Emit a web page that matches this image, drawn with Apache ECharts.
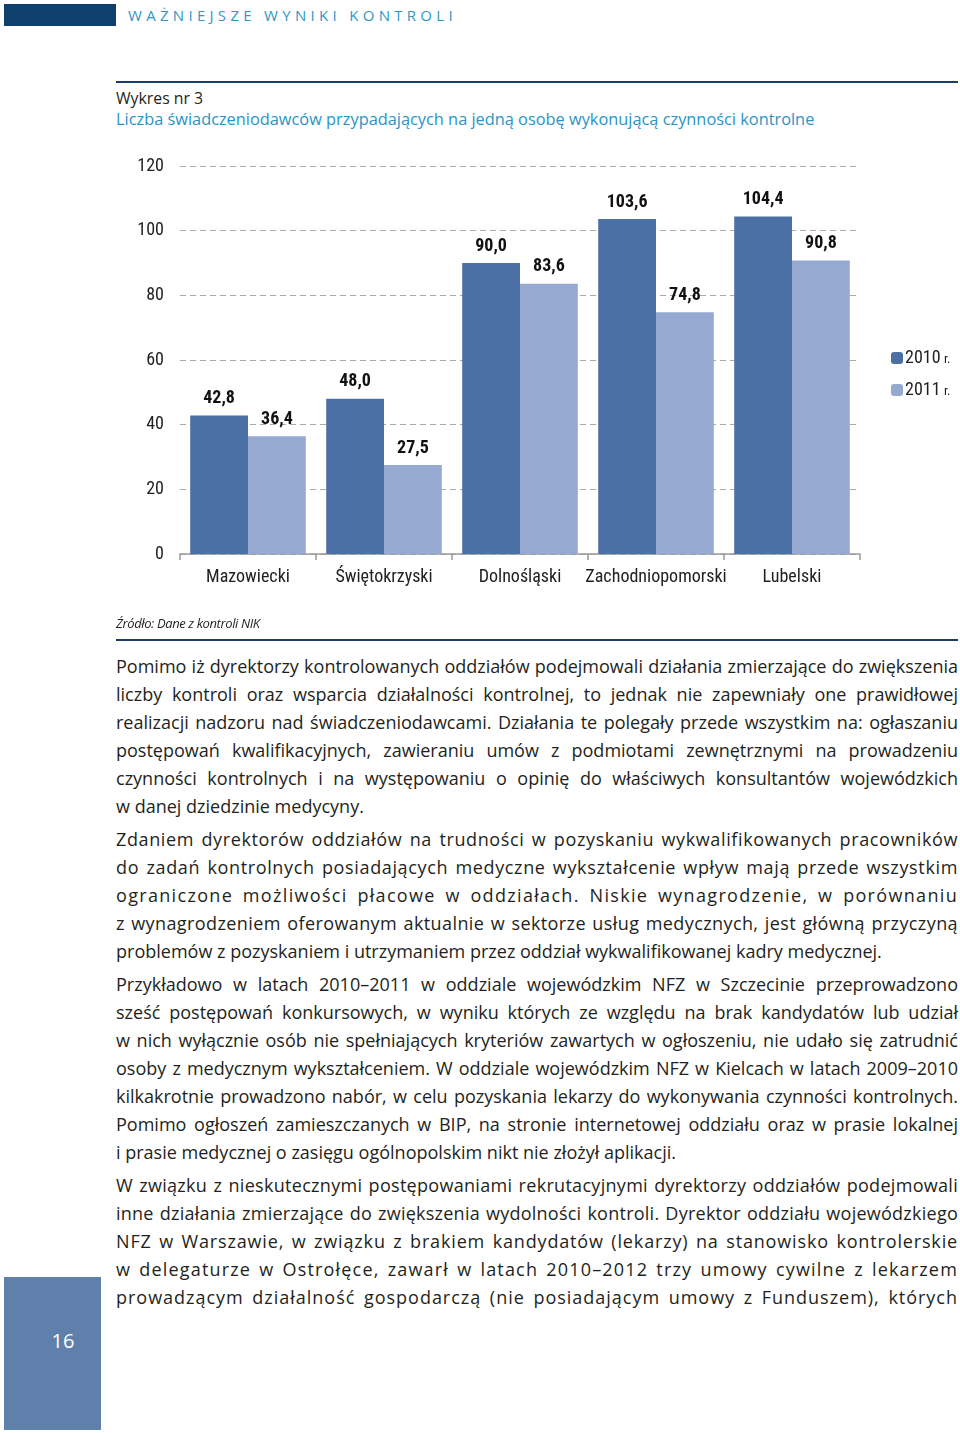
<!DOCTYPE html>
<html><head><meta charset="utf-8">
<script src="https://cdn.jsdelivr.net/npm/echarts@6/dist/echarts.min.js"></script>
<style>
html,body{margin:0;padding:0;background:#fff;}
#page{position:relative;width:960px;height:1433px;overflow:hidden;font-family:'Open Sans',sans-serif;color:#231f20;}
.hdrbox{position:absolute;left:4px;top:4px;width:112px;height:22px;background:#0f3f6c;}
.hdr{position:absolute;left:128px;top:5px;font-family:'Open Sans',sans-serif;font-size:15px;letter-spacing:4.3px;color:#2f97c4;}
.rule{position:absolute;left:116px;width:842px;height:2px;background:#1d3d64;}
.wyk{position:absolute;left:116px;top:87px;font-family:'Open Sans',sans-serif;font-size:15.8px;}
.ttl{position:absolute;left:116px;top:108px;font-family:'Open Sans',sans-serif;font-size:16.35px;color:#2a94c6;white-space:nowrap;}
.src{position:absolute;left:116px;top:614px;font-family:'Open Sans',sans-serif;font-style:italic;font-size:13px;letter-spacing:-0.4px;}
#chart{position:absolute;left:0;top:140px;width:960px;height:480px;}
.body{position:absolute;left:116px;top:652px;width:842px;font-size:18px;}
.ln{height:28px;line-height:28px;white-space:nowrap;text-align:justify;text-align-last:justify;}
.ln.last{text-align-last:left;}
.pg{height:5px;}
.pbox{position:absolute;left:4px;top:1277px;width:97px;height:153px;background:#5f80ab;}
.pnum{position:absolute;left:0;top:50px;width:118px;text-align:center;color:#fff;font-family:'Open Sans',sans-serif;font-size:20px;}
</style></head>
<body><div id="page">
<div class="hdrbox"></div>
<div class="hdr">WAŻNIEJSZE WYNIKI KONTROLI</div>
<div class="rule" style="top:81px"></div>
<div class="wyk">Wykres nr 3</div>
<div class="ttl">Liczba świadczeniodawców przypadających na jedną osobę wykonującą czynności kontrolne</div>
<div id="chart"></div>
<div class="src">Źródło: Dane z kontroli NIK</div>
<div class="rule" style="top:639px"></div>
<div class="body" id="body"></div>
<div class="pbox"><div class="pnum">16</div></div>
</div>
<script>
const categories = ['Mazowiecki','Świętokrzyski','Dolnośląski','Zachodniopomorski','Lubelski'];
const seriesNames = ['2010 r.','2011 r.'];
const values2010 = [42.8, 48.0, 90.0, 103.6, 104.4];
const values2011 = [36.4, 27.5, 83.6, 74.8, 90.8];
const yTicks = [0, 20, 40, 60, 80, 100, 120];

const paragraphs = [
 ['Pomimo iż dyrektorzy kontrolowanych oddziałów podejmowali działania zmierzające do zwiększenia',
  'liczby kontroli oraz wsparcia działalności kontrolnej, to jednak nie zapewniały one prawidłowej',
  'realizacji nadzoru nad świadczeniodawcami. Działania te polegały przede wszystkim na: ogłaszaniu',
  'postępowań kwalifikacyjnych, zawieraniu umów z podmiotami zewnętrznymi na prowadzeniu',
  'czynności kontrolnych i na występowaniu o opinię do właściwych konsultantów wojewódzkich',
  'w danej dziedzinie medycyny.'],
 ['Zdaniem dyrektorów oddziałów na trudności w pozyskaniu wykwalifikowanych pracowników',
  'do zadań kontrolnych posiadających medyczne wykształcenie wpływ mają przede wszystkim',
  'ograniczone możliwości płacowe w oddziałach. Niskie wynagrodzenie, w porównaniu',
  'z wynagrodzeniem oferowanym aktualnie w sektorze usług medycznych, jest główną przyczyną',
  'problemów z pozyskaniem i utrzymaniem przez oddział wykwalifikowanej kadry medycznej.'],
 ['Przykładowo w latach 2010–2011 w oddziale wojewódzkim NFZ w Szczecinie przeprowadzono',
  'sześć postępowań konkursowych, w wyniku których ze względu na brak kandydatów lub udział',
  'w nich wyłącznie osób nie spełniających kryteriów zawartych w ogłoszeniu, nie udało się zatrudnić',
  'osoby z medycznym wykształceniem. W oddziale wojewódzkim NFZ w Kielcach w latach 2009–2010',
  'kilkakrotnie prowadzono nabór, w celu pozyskania lekarzy do wykonywania czynności kontrolnych.',
  'Pomimo ogłoszeń zamieszczanych w BIP, na stronie internetowej oddziału oraz w prasie lokalnej',
  'i prasie medycznej o zasięgu ogólnopolskim nikt nie złożył aplikacji.'],
 ['W związku z nieskutecznymi postępowaniami rekrutacyjnymi dyrektorzy oddziałów podejmowali',
  'inne działania zmierzające do zwiększenia wydolności kontroli. Dyrektor oddziału wojewódzkiego',
  'NFZ w Warszawie, w związku z brakiem kandydatów (lekarzy) na stanowisko kontrolerskie',
  'w delegaturze w Ostrołęce, zawarł w latach 2010–2012 trzy umowy cywilne z lekarzem',
  'prowadzącym działalność gospodarczą (nie posiadającym umowy z Funduszem), których']
];
const lastFlags = [true, true, true, false];
const letterSpaced = [false, true, false, true];

const bodyEl = document.getElementById('body');
const cv = document.createElement('canvas').getContext('2d');
let maxW = 0;
cv.font = "100px 'Open Sans'";
paragraphs.flat().forEach(t => { maxW = Math.max(maxW, cv.measureText(t).width); });
const fs = Math.min(19, 100 * 838 / maxW);
bodyEl.style.fontSize = fs + 'px';
cv.font = fs + "px 'Open Sans'";

paragraphs.forEach((p, pi) => {
  p.forEach((t, i) => {
    const isLast = (i === p.length - 1 && lastFlags[pi]);
    const d = document.createElement('div');
    d.className = 'ln' + (isLast ? ' last' : '');
    d.textContent = t;
    if (letterSpaced[pi] && !isLast) {
      const w = cv.measureText(t).width;
      const ls = Math.max(0, (838 - w) / t.length * 0.8);
      d.style.letterSpacing = ls + 'px';
    }
    bodyEl.appendChild(d);
  });
  if (pi < paragraphs.length - 1) {
    const g = document.createElement('div'); g.className = 'pg'; bodyEl.appendChild(g);
  }
});
bodyEl.querySelectorAll('.ln').forEach(d => {
  let ls = parseFloat(d.style.letterSpacing) || 0;
  let n = 0;
  while (d.scrollWidth > d.clientWidth + 0.5 && n < 60) { ls -= 0.05; n++; d.style.letterSpacing = ls + 'px'; }
});

const FONT = "'Liberation Sans Narrow','Roboto Condensed','Liberation Sans',Arial,sans-serif";
const fmt = p => p.value.toFixed(1).replace('.', ',');
const chart = echarts.init(document.getElementById('chart'), null, {renderer:'canvas'});
chart.setOption({
  animation: false,
  grid: {left: 180, right: 100, top: 26, bottom: 66},
  legend: {
    orient: 'vertical', left: 886, top: 204, itemWidth: 12, itemHeight: 12, itemGap: 14,
    data: seriesNames,
    formatter: n => '{a|' + n.split(' ')[0] + '} {b|' + n.split(' ')[1] + '}',
    textStyle: {rich: {a: {fontFamily: FONT, fontSize: 18, color: '#222'}, b: {fontFamily: FONT, fontSize: 13, color: '#222', padding:[3,0,0,0]}}, padding:[0,0,0,-3]}
  },
  xAxis: {
    type: 'category', data: categories,
    axisLine: {lineStyle: {color: '#999', width: 1.5}},
    axisTick: {show: true, length: 6, lineStyle: {color: '#999', width: 1.5}},
    axisLabel: {interval: 0, fontFamily: FONT, fontSize: 18, color: '#222', margin: 14}
  },
  yAxis: {
    type: 'value', min: yTicks[0], max: yTicks[yTicks.length-1], interval: 20,
    axisLine: {show: false}, axisTick: {show: false},
    axisLabel: {fontFamily: FONT, fontSize: 18, color: '#222', margin: 16},
    splitLine: {lineStyle: {color: '#aaa', type: [6, 4], width: 1.2}}
  },
  series: [
    {name: seriesNames[0], type: 'bar', data: values2010, barGap: '0%', barCategoryGap: '15%',
     itemStyle: {color: '#4a70a6'},
     label: {show: true, position: 'top', distance: 8, formatter: fmt, fontFamily: FONT, fontWeight: 'bold', fontSize: 18, color: '#111'}},
    {name: seriesNames[1], type: 'bar', data: values2011,
     itemStyle: {color: '#95a9d1'},
     label: {show: true, position: 'top', distance: 8, formatter: fmt, fontFamily: FONT, fontWeight: 'bold', fontSize: 18, color: '#111'}}
  ]
});
</script>
</body></html>
